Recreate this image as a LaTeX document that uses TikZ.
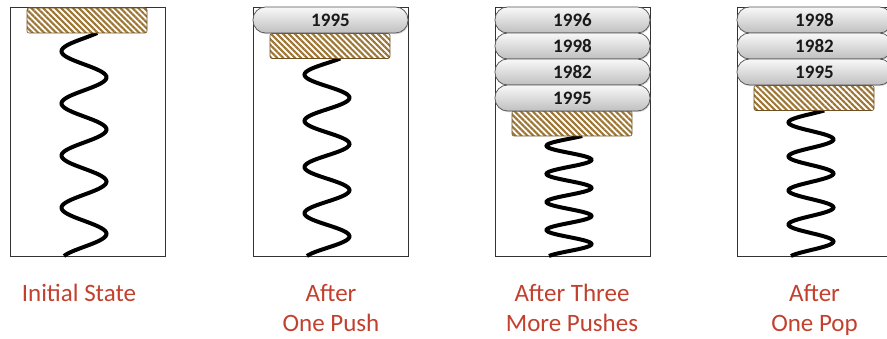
\documentclass[tikz,border=0pt]{standalone}
\usepackage{fontspec}
\setmainfont{Carlito}
\usetikzlibrary{patterns.meta,shadows}

\definecolor{labelred}{RGB}{194,64,46}
\definecolor{platebrown}{RGB}{158,118,52}
\definecolor{plateedge}{RGB}{110,80,35}
\definecolor{recordedge}{RGB}{80,80,80}

\begin{document}
\begin{tikzpicture}[x=1pt,y=-1pt]

\tikzset{frame/.style = {draw=black!80, line width=0.8pt, minimum width=155pt, minimum height=249pt, inner sep=0pt}}
\tikzset{plate/.style = {draw=plateedge, line width=0.6pt, rounded corners=2pt, minimum width=120pt, minimum height=25pt, inner sep=0pt, preaction={fill=white}, pattern={Lines[angle=-45,distance=4.2pt,line width=2.1pt]}, pattern color=platebrown}}
\tikzset{record/.style = {draw=recordedge, line width=0.7pt, rounded corners=12.5pt, minimum width=155pt, minimum height=26pt, inner sep=0pt, top color=gray!5, bottom color=gray!50, drop shadow={opacity=0.3,shadow xshift=0.8pt,shadow yshift=-1.2pt}, font=\fontsize{19}{20}\selectfont\bfseries, text=black!90}}
\tikzset{spring/.style = {line width=4pt}}
\tikzset{caption/.style = {text=labelred, font=\fontsize{25}{30}\selectfont, align=center, anchor=base}}

\useasboundingbox (0,0) rectangle (887,339);
\clip (0,0) rectangle (887,339);

% frames
\node[frame] (frame1) at (87.5,131.5) {};
\node[frame] (frame2) at (330.5,131.5) {};
\node[frame] (frame3) at (572.5,131.5) {};
\node[frame] (frame4) at (814.5,131.5) {};

% springs
\draw[spring] plot[domain=0.3:8.85, samples=160] ({84+22.5*cos(180*\x)}, {33+(\x-0.3)*223/8.55});
\draw[spring] plot[domain=0.3:8.85, samples=160] ({327+22.5*cos(180*\x)}, {58.5+(\x-0.3)*197.5/8.55});
\draw[spring] plot[domain=0.3:8.85, samples=160] ({569+22.5*cos(180*\x)}, {136+(\x-0.3)*120/8.55});
\draw[spring] plot[domain=0.3:8.85, samples=160] ({811+22.5*cos(180*\x)}, {110.5+(\x-0.3)*145.5/8.55});

% plates
\node[plate] (plate1) at (87,20.5) {};
\node[plate] (plate2) at (330,46) {};
\node[plate] (plate3) at (572,123.5) {};
\node[plate] (plate4) at (814,98) {};

% records
\node[record] (r21) at (330.5,20) {1995};

\node[record] (r31) at (572.5,20) {1996};
\node[record] (r32) at (572.5,46) {1998};
\node[record] (r33) at (572.5,72) {1982};
\node[record] (r34) at (572.5,98) {1995};

\node[record] (r41) at (814.5,20) {1998};
\node[record] (r42) at (814.5,46) {1982};
\node[record] (r43) at (814.5,72) {1995};

% captions
\node[caption] (cap1) at (79,302) {Initial State};
\node[caption] (cap2) at (331,332) {After\\One Push};
\node[caption] (cap3) at (572,332) {After Three\\More Pushes};
\node[caption] (cap4) at (814.5,332) {After\\One Pop};

\end{tikzpicture}
\end{document}
